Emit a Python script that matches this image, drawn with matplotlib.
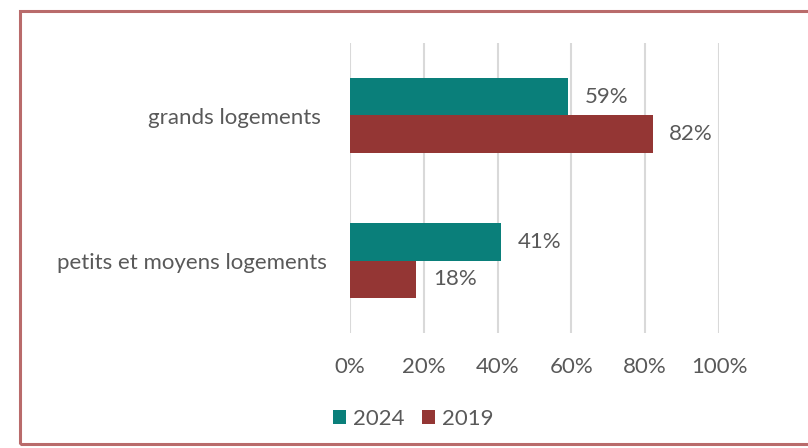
import matplotlib.pyplot as plt
from matplotlib.patches import Rectangle
import numpy as np

categories = ['petits et moyens logements', 'grands logements ']
values_2024 = [41, 59]
values_2019 = [18, 82]
series_names = ['2024', '2019']
xticks = [0, 20, 40, 60, 80, 100]

teal = '#0A7F7A'
red = '#943634'
grey = '#595959'
fs = 16

plt.rcParams['font.family'] = ['Lato', 'DejaVu Sans']

fig = plt.figure(figsize=(8.08, 4.48), dpi=100)
ax = fig.add_axes([350 / 808, 115 / 448, 369 / 808, 290 / 448])

y = np.arange(len(categories))
h = 0.26
b1 = ax.barh(y + h / 2, values_2024, height=h, color=teal, label=series_names[0])
b2 = ax.barh(y - h / 2, values_2019, height=h, color=red, label=series_names[1])

for bars in (b1, b2):
    for rect in bars:
        w = rect.get_width()
        ax.text(w + 4.5, rect.get_y() + rect.get_height() / 2, f'{w:.0f}%',
                va='center', ha='left', fontsize=fs, color=grey)

ax.set_xlim(0, 100)
ax.set_ylim(-0.5, 1.5)
ax.set_xticks(xticks)
ax.set_xticklabels([f'{t}%' for t in xticks])
ax.set_yticks(y)
ax.set_yticklabels(categories)
ax.tick_params(axis='x', length=0, pad=17, labelsize=fs, labelcolor=grey)
ax.tick_params(axis='y', length=0, pad=17, labelsize=fs, labelcolor=grey)
ax.grid(axis='x', color='#D9D9D9', linewidth=1.5)
ax.set_axisbelow(True)
for s in ax.spines.values():
    s.set_visible(False)

fig.legend(handles=[b1, b2], loc='center', bbox_to_anchor=(413 / 808, 1 - 419 / 448),
           ncol=2, frameon=False, fontsize=fs, labelcolor=grey,
           handlelength=0.6, handleheight=0.6, handletextpad=0.3, columnspacing=0.8)

# outer frame
fig.patches.append(Rectangle((20 / 808, 4 / 448), 1.0, 433 / 448, transform=fig.transFigure,
                             fill=False, edgecolor='#B96B6B', linewidth=2.2))

fig.savefig('out.png', dpi=100, facecolor='white')
